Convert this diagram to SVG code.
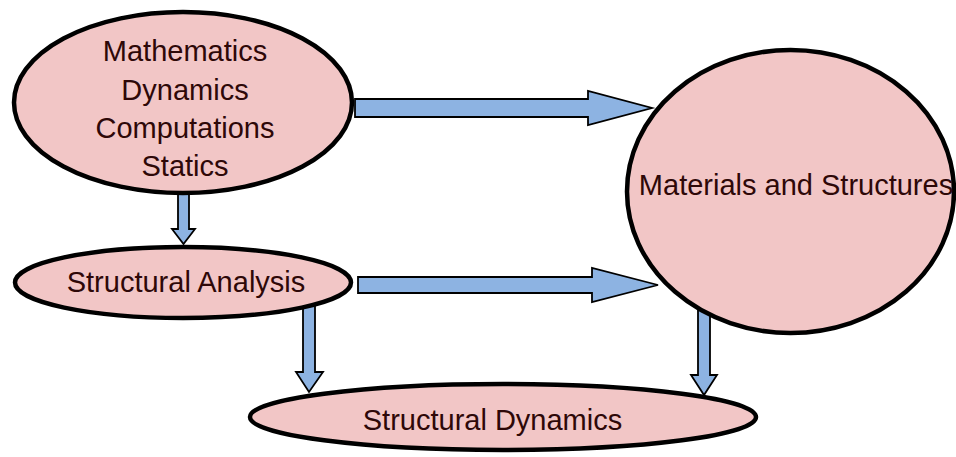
<svg xmlns="http://www.w3.org/2000/svg" width="956" height="457" viewBox="0 0 956 457">
<style>
.node{fill:#f2c6c6;stroke:#000;stroke-width:4.5}
.arrow{fill:#8db3e2;stroke:#000;stroke-width:1.8;stroke-linejoin:miter}
.lbl{font-family:"Liberation Sans",Arial,sans-serif;font-size:29px;fill:#2e0808;text-anchor:middle}
</style>
<rect width="956" height="457" fill="#fff"/>
<g id="connectors">
<path class="arrow" d="M355,99 H588 V91 L652,108 L588,125 V117 H355 Z"/>
<path class="arrow" d="M358,277 H592 V268 L658,285 L592,302 V293 H358 Z"/>
<path class="arrow" d="M178,190 H189 V229 H195 L183.5,244 L172,229 H178 Z"/>
<path class="arrow" d="M303,300 H315 V372 H323 L309,392 L296,372 H303 Z"/>
<path class="arrow" d="M698,300 H710 V375 H717 L704,395 L691,375 H698 Z"/>
</g>
<g id="node-math">
<ellipse class="node" cx="183" cy="102.5" rx="169" ry="90.5"/>
<text class="lbl" x="185" y="61">Mathematics</text>
<text class="lbl" x="185" y="100">Dynamics</text>
<text class="lbl" x="185" y="138">Computations</text>
<text class="lbl" x="185" y="176">Statics</text>
</g>
<g id="node-analysis">
<ellipse class="node" cx="183" cy="282.5" rx="168" ry="35.5"/>
<text class="lbl" x="186" y="292">Structural Analysis</text>
</g>
<g id="node-materials">
<ellipse class="node" cx="790.5" cy="191.5" rx="163.5" ry="141.5"/>
<text class="lbl" x="796" y="195">Materials and Structures</text>
</g>
<g id="node-dynamics">
<ellipse class="node" cx="503" cy="417" rx="253" ry="33"/>
<text class="lbl" x="492.5" y="430">Structural Dynamics</text>
</g>
</svg>
